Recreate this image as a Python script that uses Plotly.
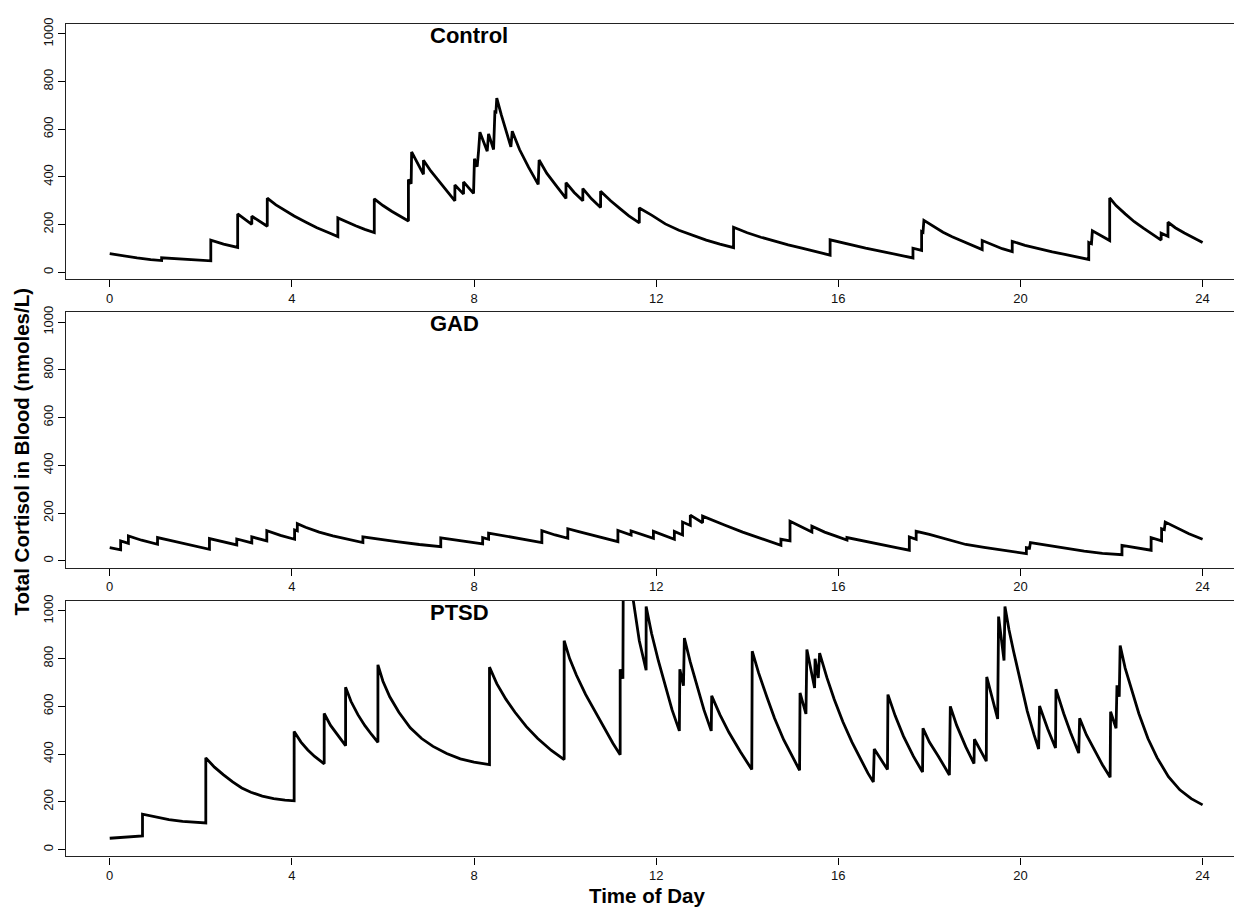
import plotly.graph_objects as go

# ---------------- data: (hour, total cortisol nmol/L) ----------------
ctrl_pts = [(0, 78), (0.3, 68), (0.6, 60), (0.9, 53), (1.14, 49), (1.14, 61), (1.5, 56), (1.9, 51),
            (2.22, 48), (2.22, 135), (2.5, 118), (2.81, 104), (2.81, 245), (3.12, 201), (3.12, 235),
            (3.46, 193), (3.46, 311), (3.65, 283), (3.85, 258), (4.05, 236), (4.3, 211), (4.55, 187),
            (4.8, 167), (5.01, 150), (5.01, 228), (5.2, 211), (5.4, 195), (5.6, 180), (5.81, 167),
            (5.81, 308), (6.0, 280), (6.2, 255), (6.4, 232), (6.56, 215), (6.56, 389), (6.62, 372),
            (6.63, 505), (6.76, 455), (6.89, 411), (6.89, 470), (7.05, 425), (7.2, 390), (7.4, 340),
            (7.58, 300), (7.58, 366), (7.77, 328), (7.77, 379), (7.99, 331), (8.01, 476), (8.07, 443),
            (8.10, 508), (8.13, 588), (8.29, 508), (8.32, 581), (8.43, 515), (8.46, 680), (8.48, 665),
            (8.50, 731), (8.6, 660), (8.7, 595), (8.81, 526), (8.84, 592), (9.0, 515), (9.2, 440),
            (9.41, 369), (9.43, 471), (9.6, 415), (9.8, 365), (10.02, 310), (10.02, 376), (10.2, 335),
            (10.39, 300), (10.39, 351), (10.58, 308), (10.78, 272), (10.78, 340), (11.0, 300),
            (11.2, 268), (11.4, 237), (11.63, 207), (11.63, 270), (11.9, 240), (12.2, 203), (12.5, 176),
            (12.8, 155), (13.1, 135), (13.4, 118), (13.70, 103), (13.70, 189), (14.0, 166), (14.3, 147),
            (14.6, 130), (14.9, 115), (15.2, 101), (15.5, 86), (15.82, 72), (15.82, 136), (16.2, 118),
            (16.6, 101), (17.0, 86), (17.3, 74), (17.64, 60), (17.64, 101), (17.83, 92), (17.83, 171),
            (17.86, 168), (17.88, 218), (18.1, 190), (18.3, 168), (18.5, 149), (18.75, 128), (19.0, 106),
            (19.16, 95), (19.16, 133), (19.4, 113), (19.6, 99), (19.82, 87), (19.82, 130), (20.1, 113),
            (20.4, 98), (20.7, 86), (21.0, 74), (21.25, 63), (21.50, 54), (21.50, 125), (21.56, 120),
            (21.58, 174), (21.96, 133), (21.96, 312), (22.1, 280), (22.3, 245), (22.5, 212), (22.7, 185),
            (22.9, 158), (23.09, 135), (23.09, 164), (23.24, 151), (23.24, 210), (23.4, 187), (23.6, 165),
            (23.8, 145), (24.0, 125)]

gad_pts = [(0, 55), (0.24, 46), (0.24, 83), (0.41, 73), (0.41, 104), (0.7, 86), (1.05, 69), (1.05, 97),
           (1.3, 86), (1.6, 73), (1.9, 60), (2.19, 48), (2.19, 93), (2.5, 78), (2.79, 66), (2.79, 91),
           (3.12, 75), (3.12, 100), (3.45, 83), (3.45, 126), (3.75, 106), (4.06, 90), (4.06, 129),
           (4.12, 125), (4.12, 155), (4.3, 140), (4.6, 120), (4.9, 104), (5.2, 90), (5.56, 76), (5.56, 100),
           (5.9, 90), (6.3, 80), (6.8, 68), (7.27, 59), (7.27, 96), (7.7, 83), (8.19, 71), (8.19, 97),
           (8.32, 90), (8.32, 116), (8.6, 106), (8.9, 96), (9.2, 86), (9.49, 76), (9.49, 126), (9.78, 108),
           (10.06, 94), (10.06, 134), (10.3, 122), (10.6, 108), (10.9, 93), (11.16, 80), (11.16, 127),
           (11.45, 108), (11.45, 125), (11.7, 108), (11.94, 94), (11.94, 123), (12.17, 105), (12.40, 90),
           (12.40, 123), (12.58, 108), (12.58, 162), (12.75, 148), (12.75, 191), (13.02, 159),
           (13.02, 187), (13.2, 172), (13.5, 150), (13.9, 120), (14.3, 93), (14.74, 65), (14.74, 90),
           (14.94, 83), (14.94, 165), (15.2, 140), (15.42, 120), (15.42, 145), (15.7, 120), (15.95, 103),
           (16.19, 87), (16.19, 97), (16.6, 80), (17.0, 65), (17.3, 54), (17.56, 44), (17.56, 100),
           (17.71, 90), (17.71, 123), (18.0, 110), (18.4, 88), (18.8, 68), (19.2, 56), (19.6, 44),
           (19.9, 36), (20.13, 30), (20.13, 55), (20.20, 53), (20.22, 76), (20.6, 64), (21.0, 50),
           (21.4, 40), (21.8, 31), (22.23, 25), (22.23, 64), (22.87, 44), (22.87, 97), (23.10, 83),
           (23.10, 134), (23.16, 130), (23.18, 162), (23.4, 140), (23.7, 113), (24.0, 90)]

ptsd_pts = [(0, 47), (0.72, 57), (0.72, 148), (0.9, 140), (1.1, 131), (1.3, 125), (1.6, 118), (1.9, 113),
            (2.11, 111), (2.11, 384), (2.3, 345), (2.5, 313), (2.7, 283), (2.9, 258), (3.1, 240),
            (3.35, 224), (3.6, 213), (3.85, 207), (4.05, 204), (4.05, 494), (4.2, 450), (4.35, 417),
            (4.5, 390), (4.71, 359), (4.71, 570), (4.85, 520), (5.0, 480), (5.18, 435), (5.18, 680),
            (5.3, 620), (5.45, 565), (5.6, 520), (5.75, 482), (5.89, 449), (5.89, 774), (6.0, 705),
            (6.15, 640), (6.35, 575), (6.6, 510), (6.85, 465), (7.1, 432), (7.4, 402), (7.7, 380),
            (8.0, 366), (8.34, 356), (8.34, 764), (8.5, 695), (8.7, 630), (8.9, 575), (9.15, 515),
            (9.4, 465), (9.7, 415), (9.98, 377), (9.98, 875), (10.1, 800), (10.25, 730), (10.45, 650),
            (10.65, 580), (10.85, 515), (11.05, 445), (11.21, 397), (11.21, 755), (11.27, 716),
            (11.28, 1250), (11.40, 1130), (11.50, 1041), (11.63, 875), (11.78, 751), (11.78, 1018),
            (11.9, 905), (12.05, 790), (12.2, 690), (12.35, 585), (12.51, 497), (12.52, 755), (12.60, 686),
            (12.62, 886), (12.75, 785), (12.9, 680), (13.05, 585), (13.21, 497), (13.22, 644), (13.4, 565),
            (13.6, 490), (13.85, 410), (14.0, 365), (14.10, 335), (14.11, 831), (14.25, 740), (14.43, 640),
            (14.6, 550), (14.8, 460), (15.0, 385), (15.15, 332), (15.16, 656), (15.29, 568), (15.31, 838),
            (15.48, 677), (15.49, 799), (15.56, 719), (15.59, 823), (15.75, 720), (15.91, 630), (16.1, 535),
            (16.3, 450), (16.5, 375), (16.65, 320), (16.77, 283), (16.79, 421), (17.08, 335), (17.09, 649),
            (17.25, 560), (17.43, 475), (17.65, 390), (17.85, 325), (17.86, 508), (18.0, 450), (18.2, 390),
            (18.44, 312), (18.46, 600), (18.6, 520), (18.8, 430), (18.98, 360), (18.99, 462), (19.25, 370),
            (19.26, 723), (19.38, 630), (19.50, 547), (19.52, 976), (19.64, 792), (19.66, 1018),
            (19.75, 920), (19.85, 830), (20.0, 700), (20.15, 580), (20.3, 480), (20.40, 421), (20.42, 601),
            (20.6, 505), (20.77, 425), (20.78, 672), (20.95, 570), (21.1, 490), (21.28, 404), (21.30, 550),
            (21.45, 480), (21.6, 425), (21.8, 355), (21.97, 303), (21.98, 577), (22.10, 508), (22.12, 688),
            (22.17, 640), (22.19, 855), (22.3, 760), (22.45, 660), (22.6, 570), (22.8, 465), (23.0, 385),
            (23.25, 305), (23.5, 250), (23.75, 213), (24.0, 187)]

panel_names = ["Control", "GAD", "PTSD"]
x_ticks = [0, 4, 8, 12, 16, 20, 24]
y_ticks = [0, 200, 400, 600, 800, 1000]

series = [ctrl_pts, gad_pts, ptsd_pts]

# ---------------- layout ----------------
W, H = 1234, 909
FONT = "Liberation Sans, Arial, Helvetica, sans-serif"
panels_px = [(17.3, 274.3), (307.7, 565.0), (598.7, 856.0)]   # (top, bottom) pixels
x_left_px = 66

fig = go.Figure()
layout = dict(
    width=W, height=H,
    margin=dict(l=0, r=0, t=0, b=0),
    paper_bgcolor="white", plot_bgcolor="white",
    showlegend=False,
    font=dict(family=FONT, color="black", size=12),
)

annotations = []
for i, (pts, name) in enumerate(zip(series, panel_names)):
    n = "" if i == 0 else str(i + 1)
    t = [p[0] for p in pts]
    v = [p[1] for p in pts]
    fig.add_trace(go.Scatter(
        x=t, y=v, mode="lines",
        line=dict(color="black", width=2.8),
        xaxis="x" + n, yaxis="y" + n, hoverinfo="skip",
    ))
    top, bot = panels_px[i]
    layout["xaxis" + n] = dict(
        domain=[x_left_px / W, 1.0],
        range=[-0.96, 24.69],
        anchor="y" + n,
        tickmode="array", tickvals=x_ticks, ticktext=[str(k) for k in x_ticks],
        ticks="outside", ticklen=7, tickwidth=1, tickcolor="black",
        showline=True, linecolor="#222", linewidth=1.3, mirror=True,
        showgrid=False, zeroline=False,
        tickfont=dict(family=FONT, size=13, color="#111"),
    )
    layout["yaxis" + n] = dict(
        domain=[1 - bot / H, 1 - top / H],
        range=[-29, 1041],
        anchor="x" + n,
        tickmode="array", tickvals=y_ticks, ticktext=[str(k) for k in y_ticks],
        ticks="outside", ticklen=7, tickwidth=1, tickcolor="black",
        tickangle=-90,
        showline=True, linecolor="#222", linewidth=1.3, mirror=False,
        showgrid=False, zeroline=False,
        tickfont=dict(family=FONT, size=13, color="#111"),
    )
    annotations.append(dict(
        x=7.0, y=993, xref="x" + n, yref="y" + n,
        text="<b>" + name + "</b>", showarrow=False,
        xanchor="left", yanchor="middle",
        font=dict(family=FONT, size=22, color="black"),
    ))

annotations.append(dict(
    x=647 / W, y=1 - 895 / H, xref="paper", yref="paper",
    text="<b>Time of Day</b>", showarrow=False,
    xanchor="center", yanchor="middle",
    font=dict(family=FONT, size=20.5, color="black"),
))
annotations.append(dict(
    x=22 / W, y=1 - 448 / H, xref="paper", yref="paper",
    text="<b>Total Cortisol in Blood (nmoles/L)</b>", showarrow=False,
    textangle=-90, xanchor="center", yanchor="middle",
    font=dict(family=FONT, size=20.5, color="black"),
))
layout["annotations"] = annotations

fig.update_layout(**layout)
fig.write_html("out.html")
